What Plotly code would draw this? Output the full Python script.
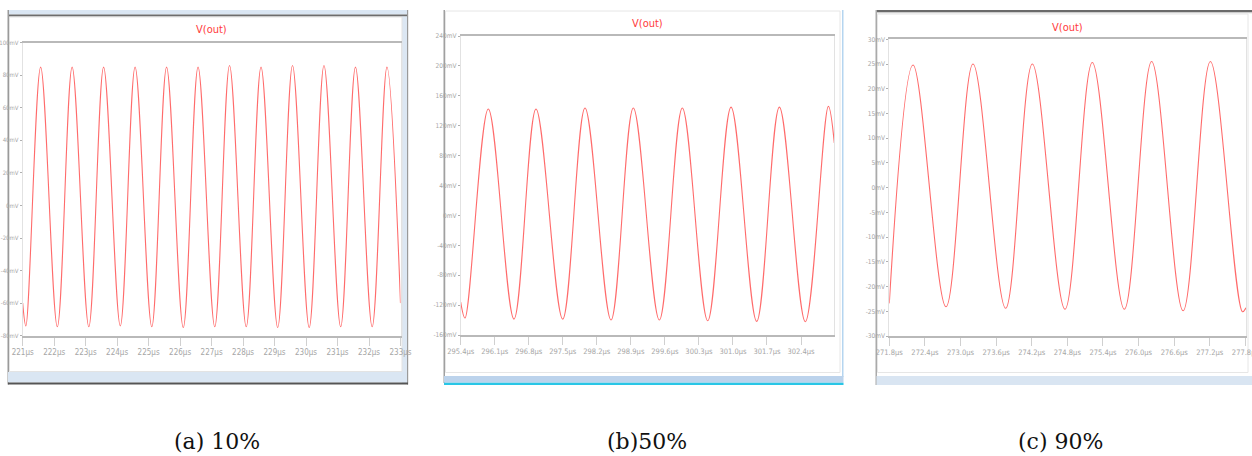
import plotly.graph_objects as go

W, H = 1252, 456

# ---------------- data ----------------
# (a) 10%  -- time in microseconds, voltage in mV (extrema of the waveform)
a_t = [221.0, 221.10, 221.57, 222.10, 222.57, 223.10, 223.57, 224.10, 224.57,
       225.10, 225.57, 226.10, 226.57, 227.10, 227.57, 228.10, 228.57, 229.10,
       229.57, 230.10, 230.57, 231.10, 231.57, 232.10, 232.57, 233.0]
a_v = [-60, -74, 85, -74.5, 85, -74.5, 85, -74, 85, -74.5, 85, -75, 85,
       -74.5, 86, -74.5, 85, -75, 86, -75, 86, -74.5, 85, -74.5, 85, -60]
a_xticks = [221, 222, 223, 224, 225, 226, 227, 228, 229, 230, 231, 232, 233]
a_xlabels = ["221μs", "222μs", "223μs", "224μs", "225μs", "226μs", "227μs",
             "228μs", "229μs", "230μs", "231μs", "232μs", "233μs"]
a_yticks = [-80, -60, -40, -20, 0, 20, 40, 60, 80, 100]
a_ylabels = ["-80mV", "-60mV", "-40mV", "-20mV", "0mV", "20mV", "40mV",
             "60mV", "80mV", "100mV"]

# (b) 50%
b_t = [295.40, 295.488, 295.968, 296.496, 296.949, 297.498, 297.957, 298.492,
       298.951, 299.486, 299.959, 300.481, 300.961, 301.489, 301.955, 302.489,
       302.963, 303.085]
b_v = [-116, -137.3, 142.3, -138.7, 142.3, -138.7, 143.6, -140, 143.6, -140,
       143.6, -140.9, 144.9, -141.8, 144.9, -142.2, 145.8, 97]
b_xticks = [295.4, 296.1, 296.8, 297.5, 298.2, 298.9, 299.6, 300.3, 301.0,
            301.7, 302.4]
b_xlabels = ["295.4μs", "296.1μs", "296.8μs", "297.5μs", "298.2μs", "298.9μs",
             "299.6μs", "300.3μs", "301.0μs", "301.7μs", "302.4μs"]
b_yticks = [-160, -120, -80, -40, 0, 40, 80, 120, 160, 200, 240]
b_ylabels = ["-160mV", "-120mV", "-80mV", "-40mV", "0mV", "40mV", "80mV",
             "120mV", "160mV", "200mV", "240mV"]

# (c) 90%
c_t = [271.80, 272.20, 272.755, 273.21, 273.76, 274.21, 274.76, 275.22,
       275.76, 276.22, 276.75, 277.21, 277.75, 277.81]
c_v = [-23.4, 24.8, -24.1, 25.0, -24.4, 25.0, -24.6, 25.3, -24.6, 25.5,
       -24.9, 25.5, -25.1, -24.3]
c_xticks = [271.8, 272.4, 273.0, 273.6, 274.2, 274.8, 275.4, 276.0, 276.6,
            277.2, 277.8]
c_xlabels = ["271.8μs", "272.4μs", "273.0μs", "273.6μs", "274.2μs", "274.8μs",
             "275.4μs", "276.0μs", "276.6μs", "277.2μs", "277.8μs"]
c_yticks = [-30, -25, -20, -15, -10, -5, 0, 5, 10, 15, 20, 25, 30]
c_ylabels = ["-30mV", "-25mV", "-20mV", "-15mV", "-10mV", "-5mV", "0mV",
             "5mV", "10mV", "15mV", "20mV", "25mV", "30mV"]

captions = ["(a) 10%", "(b)50%", "(c) 90%"]
title_text = "V(out)"

# ---------------- helpers ----------------
def px(x):
    return x / W

def py(y):
    return 1 - y / H

NARROW = "Liberation Sans Narrow, DejaVu Sans Condensed, Arial Narrow, sans-serif"
LINE_COLOR = "rgba(255,70,70,0.8)"

fig = go.Figure()

panels = [
    dict(t=a_t, v=a_v, xt=a_xticks, xl=a_xlabels, yt=a_yticks, yl=a_ylabels,
         xr=[221, 233.0001], yr=[-80, 100], xd=[22.7, 400.5], yd=[42.7, 335.7],
         title=(211, 30), cap=217, xfs=8, yfs=6),
    dict(t=b_t, v=b_v, xt=b_xticks, xl=b_xlabels, yt=b_yticks, yl=b_ylabels,
         xr=[295.4, 303.085], yr=[-160, 240], xd=[460.7, 834.3], yd=[36, 335],
         title=(648, 24), cap=647, xfs=7.5, yfs=6.5),
    dict(t=c_t, v=c_v, xt=c_xticks, xl=c_xlabels, yt=c_yticks, yl=c_ylabels,
         xr=[271.8, 277.81], yr=[-30, 30], xd=[889.3, 1246], yd=[39.3, 336],
         title=(1067, 27), cap=1060, xfs=7.5, yfs=6.5),
]

layout = dict(
    width=W, height=H, margin=dict(l=0, r=0, t=0, b=0, autoexpand=False),
    paper_bgcolor="white", plot_bgcolor="white", showlegend=False,
)

annotations = []
for i, p in enumerate(panels):
    n = "" if i == 0 else str(i + 1)
    fig.add_trace(go.Scatter(
        x=p["t"], y=p["v"], mode="lines",
        line=dict(color=LINE_COLOR, width=1.1, shape="spline", smoothing=1.0),
        xaxis="x" + n, yaxis="y" + n, hoverinfo="skip"))
    layout["xaxis" + n] = dict(
        domain=[px(p["xd"][0]), px(p["xd"][1])], range=p["xr"],
        anchor="y" + n, tickvals=p["xt"], ticktext=p["xl"], automargin=False,
        showgrid=False, zeroline=False, showline=True, mirror=True,
        linecolor="#b9b9b9", linewidth=2, ticks="outside", ticklen=8,
        tickcolor="#d0d0d0", tickwidth=1, tickangle=0,
        ticklabeloverflow="allow",
        tickfont=dict(family=NARROW, size=p["xfs"], color="#a6a6a6"))
    layout["yaxis" + n] = dict(
        domain=[py(p["yd"][1]), py(p["yd"][0])], range=p["yr"],
        anchor="x" + n, tickvals=p["yt"], ticktext=p["yl"], automargin=False,
        showgrid=False, zeroline=False, showline=True, mirror=True,
        linecolor="#e2e2e2", linewidth=1, ticks="outside", ticklen=2,
        tickcolor="#b0b0b0", tickwidth=1, ticklabeloverflow="allow",
        tickfont=dict(family=NARROW, size=p["yfs"], color="#a6a6a6"))
    annotations.append(dict(
        text=title_text, x=px(p["title"][0]), y=py(p["title"][1]),
        xref="paper", yref="paper", showarrow=False, xanchor="center",
        yanchor="middle", font=dict(family=NARROW, size=11, color="#ff3b3b")))
    annotations.append(dict(
        text=captions[i], x=px(p["cap"]), y=py(441),
        xref="paper", yref="paper", showarrow=False, xanchor="center",
        yanchor="middle", font=dict(family="DejaVu Serif", size=22, color="#111")))

layout["annotations"] = annotations

def rect(x0, y0, x1, y1, fill, line=None, lw=0):
    d = dict(type="rect", xref="paper", yref="paper",
             x0=px(x0), x1=px(x1), y0=py(y1), y1=py(y0),
             fillcolor=fill, layer="below")
    d["line"] = dict(width=lw, color=line or fill)
    return d

shapes = [
    # panel (a) window frame
    rect(8, 10, 407, 14.5, "#dae6f3"),
    rect(8, 14.5, 407, 16.5, "#6d6d6d"),
    rect(7.5, 10, 9, 384.5, "#9a9a9a"),
    rect(402, 16.5, 407, 384, "#dce7f3"),
    rect(407, 10, 408.2, 384.5, "#9a9a9a"),
    rect(8, 372, 407, 382.5, "#dae6f3"),
    rect(8, 382.5, 408, 384.5, "#555555"),
    dict(type="rect", xref="paper", yref="paper", x0=px(9.5), x1=px(402),
         y0=py(371.5), y1=py(17), line=dict(color="#e3e3e3", width=1),
         layer="below"),
    # panel (b) window frame
    rect(443.5, 10, 445, 383, "#a0a0a0"),
    rect(842, 10, 843.5, 377, "#b5d5f0"),
    rect(444, 376, 843.5, 382.7, "#bcd3ec"),
    rect(444, 382.7, 843.5, 385, "#29c6e6"),
    dict(type="rect", xref="paper", yref="paper", x0=px(445.5), x1=px(840),
         y0=py(372.5), y1=py(11), line=dict(color="#e6e6e6", width=1),
         layer="below"),
    # panel (c) window frame
    rect(876, 10, 1252, 12, "#6a6a6a"),
    rect(876, 12, 1252, 13.2, "#cccccc"),
    rect(875.5, 10, 877, 385, "#aaaaaa"),
    rect(876.5, 376, 1252, 385, "#d9e5f2"),
    dict(type="rect", xref="paper", yref="paper", x0=px(877.5), x1=px(1248),
         y0=py(372.5), y1=py(14), line=dict(color="#e6e6e6", width=1),
         layer="below"),
]
layout["shapes"] = shapes

fig.update_layout(**layout)
fig.write_html(
    "out.html",
    config={"displayModeBar": False},
    post_script="document.body.style.margin='0';document.body.style.overflow='hidden';",
)
